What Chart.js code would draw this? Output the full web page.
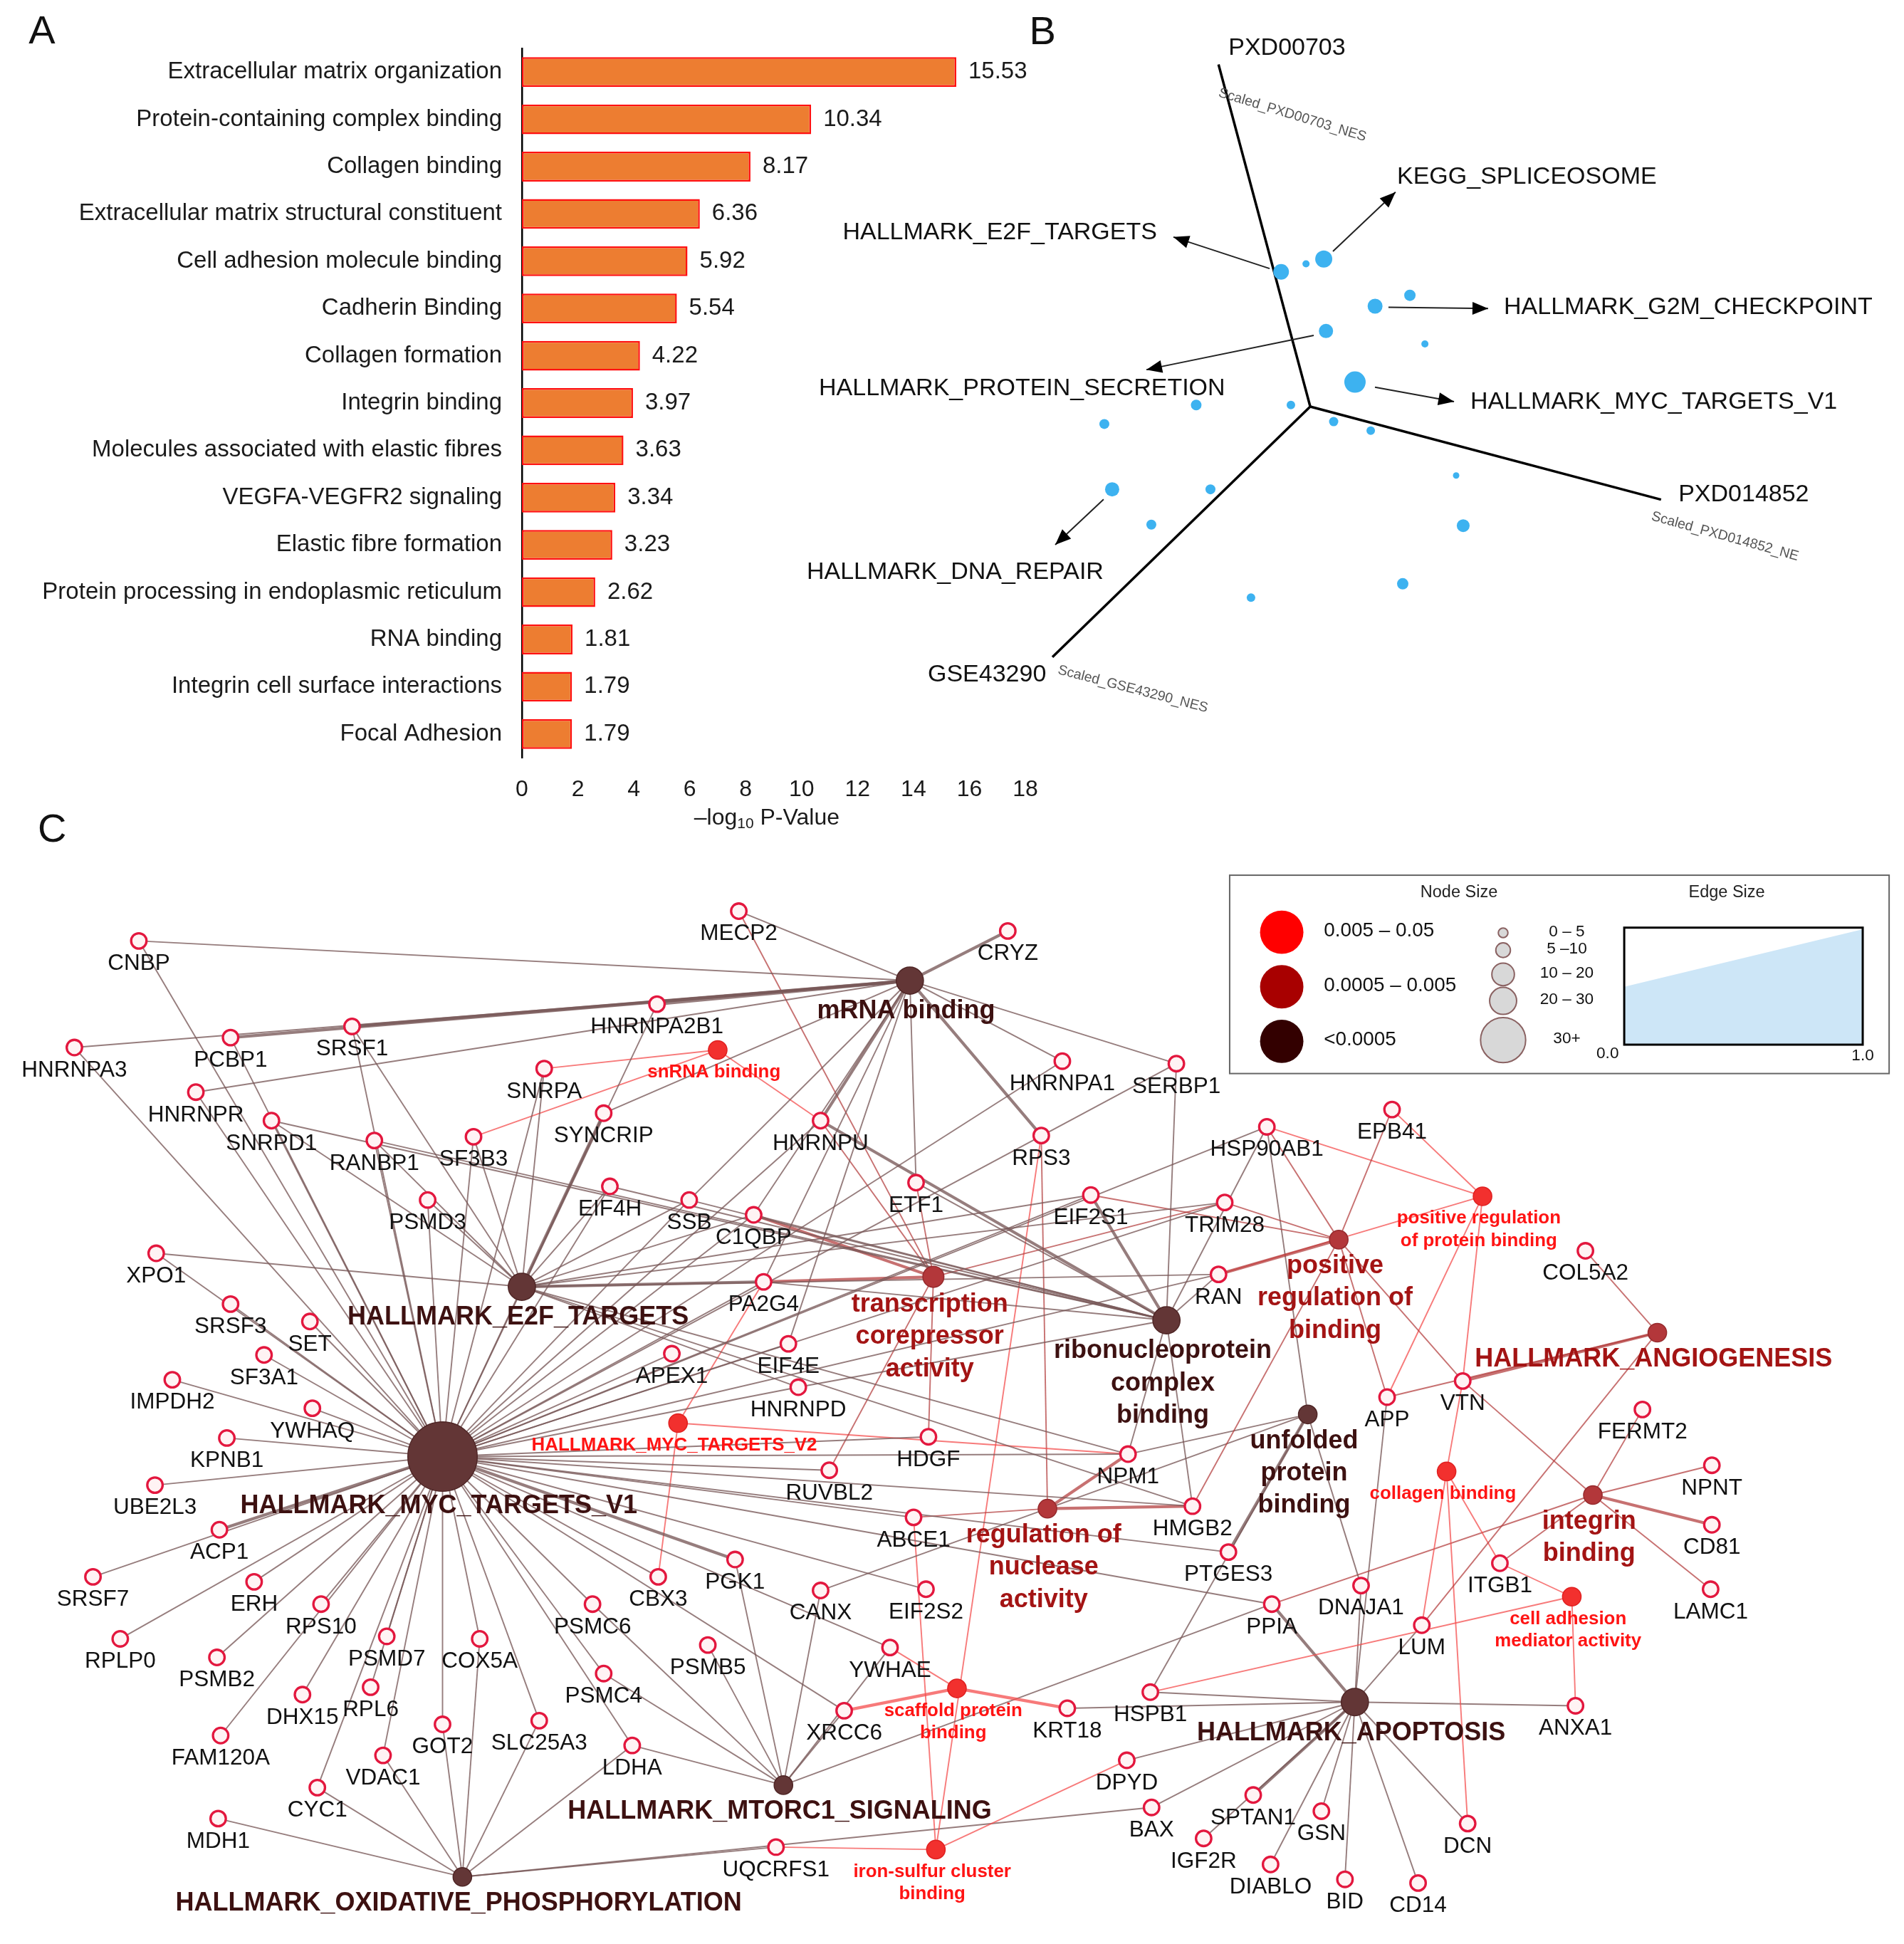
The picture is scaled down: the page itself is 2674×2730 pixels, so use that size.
<!DOCTYPE html>
<html><head><meta charset="utf-8">
<script src="https://cdn.jsdelivr.net/npm/chart.js@4/dist/chart.umd.min.js"></script>
<style>
html,body{margin:0;padding:0;background:#fff;}
#page{position:relative;width:2674px;height:2730px;overflow:hidden;background:#fff;}
canvas{position:absolute;}
</style></head><body><div id="page">
<canvas id="cA" width="1500" height="1200" style="left:0;top:0;width:1500px;height:1200px"></canvas>
<canvas id="cB" width="1574" height="1114" style="left:1100px;top:0;width:1574px;height:1114px"></canvas>
<canvas id="cC" width="2674" height="1616" style="left:0;top:1114px;width:2674px;height:1616px"></canvas>
</div>
<script>
// ---------------- Panel A data ----------------
const termLabels = ['Extracellular matrix organization','Protein-containing complex binding','Collagen binding','Extracellular matrix structural constituent','Cell adhesion molecule binding','Cadherin Binding','Collagen formation','Integrin binding','Molecules associated with elastic fibres','VEGFA-VEGFR2 signaling','Elastic fibre formation','Protein processing in endoplasmic reticulum','RNA binding','Integrin cell surface interactions','Focal Adhesion'];
const termValues = [15.53,10.34,8.17,6.36,5.92,5.54,4.22,3.97,3.63,3.34,3.23,2.62,1.81,1.79,1.79];
const xTickValues = [0,2,4,6,8,10,12,14,16,18];

// ---------------- Panel B data (triplot coordinates) ----------------
const bAxisNames = ['PXD00703','PXD014852','GSE43290'];
const bAxisSubNames = ['Scaled_PXD00703_NES','Scaled_PXD014852_NE','Scaled_GSE43290_NES'];
const bAxisOrigin = [1057,328];
const bAxisEnds = [[983,52],[1340,403],[849,530]];
const bPoints = [[1033.5,219.3,11],[1053.6,212.8,5],[1067.9,208.9,12],[1137.4,238.2,8],[1109.3,247.0,10.5],[1069.7,267.0,10],[1149.5,277.4,5],[1093.1,308.2,15],[1041.4,326.7,6],[965.0,326.7,7.5],[890.9,342.0,7],[1075.9,340.1,6.5],[1105.8,347.4,6],[897.2,394.7,10],[976.5,394.7,7],[928.8,423.2,7],[1174.7,383.6,4.5],[1180.4,424.0,9],[1131.6,470.9,8],[1009.2,482.1,6]];
const bPathways = ['KEGG_SPLICEOSOME','HALLMARK_E2F_TARGETS','HALLMARK_G2M_CHECKPOINT','HALLMARK_PROTEIN_SECRETION','HALLMARK_MYC_TARGETS_V1','HALLMARK_DNA_REPAIR'];
const bArrowFrom = [[1075.3,202.8],[1024.2,216.6],[1120.1,247.8],[1059.8,270.5],[1109.2,312.4],[890.3,402.8]];
const bArrowTo = [[1125.8,155.0],[946.6,191.2],[1200.5,248.9],[924.8,298.2],[1173.0,324.0],[851.3,439.4]];

// ---------------- Panel C data (network layout) ----------------
const genes = [
['CNBP',112,759],['MECP2',596,735],['CRYZ',813,751],['HNRNPA3',60,845],['PCBP1',186,837],['SRSF1',284,828],
['HNRNPA2B1',530,810],['SNRPA',439,862],['HNRNPR',158,881],['SNRPD1',219,904],['SYNCRIP',487,898],['RANBP1',302,920],
['SF3B3',382,917],['HNRNPU',662,904],['HNRNPA1',857,856],['SERBP1',949,858],['RPS3',840,916],['ETF1',739,954],
['EIF4H',492,957],['SSB',556,968],['PSMD3',345,968],['C1QBP',608,980],['EIF2S1',880,964],['TRIM28',988,970],
['HSP90AB1',1022,909],['EPB41',1123,895],['RAN',983,1028],['COL5A2',1279,1009],['XPO1',126,1011],['SRSF3',186,1052],
['SET',250,1066],['PA2G4',616,1034],['SF3A1',213,1093],['APEX1',542,1092],['EIF4E',636,1084],['HNRNPD',644,1119],
['IMPDH2',139,1113],['YWHAQ',252,1136],['KPNB1',183,1160],['HDGF',749,1159],['RUVBL2',669,1186],['NPM1',910,1173],
['UBE2L3',125,1198],['APP',1119,1127],['VTN',1180,1114],['FERMT2',1325,1137],['NPNT',1381,1182],['CD81',1381,1230],
['LAMC1',1380,1282],['ACP1',177,1234],['ABCE1',737,1224],['HMGB2',962,1215],['PTGES3',991,1252],['ITGB1',1210,1261],
['SRSF7',75,1272],['ERH',205,1276],['RPS10',259,1294],['PGK1',593,1258],['CBX3',531,1272],['CANX',662,1283],
['EIF2S2',747,1282],['PPIA',1026,1294],['DNAJA1',1098,1279],['LUM',1147,1311],['RPLP0',97,1322],['PSMD7',312,1320],
['COX5A',387,1322],['PSMC6',478,1294],['PSMB2',175,1337],['PSMB5',571,1327],['YWHAE',718,1329],['DHX15',244,1367],
['RPL6',299,1361],['PSMC4',487,1350],['XRCC6',681,1380],['KRT18',861,1378],['HSPB1',928,1365],['ANXA1',1271,1376],
['FAM120A',178,1400],['GOT2',357,1391],['SLC25A3',435,1388],['VDAC1',309,1416],['LDHA',510,1408],['DPYD',909,1420],
['CYC1',256,1442],['BAX',929,1458],['SPTAN1',1011,1448],['GSN',1066,1461],['IGF2R',971,1483],['DCN',1184,1471],
['MDH1',176,1467],['UQCRFS1',626,1490],['DIABLO',1025,1504],['BID',1085,1516],['CD14',1144,1519]
];
// [id, label, x, y, p-value class, gene count]
const hubs = [
['mRNA','mRNA binding',734,791,'dark',22],
['E2F','HALLMARK_E2F_TARGETS',421,1038,'dark',21],
['MYC1','HALLMARK_MYC_TARGETS_V1',357,1175,'dark',62],
['RNP','ribonucleoprotein\ncomplex\nbinding',941,1065,'dark',20],
['TC','transcription\ncorepressor\nactivity',753,1030,'mid',10],
['PRB','positive\nregulation of\nbinding',1080,1000,'mid',8],
['PRPB','positive regulation\nof protein binding',1196,965,'light',5],
['ANG','HALLMARK_ANGIOGENESIS',1337,1075,'mid',4],
['UPB','unfolded\nprotein\nbinding',1055,1141,'dark',7],
['MYC2','HALLMARK_MYC_TARGETS_V2',547,1148,'light',3],
['NUC','regulation of\nnuclease\nactivity',845,1217,'mid',4],
['COL','collagen binding',1167,1187,'light',4],
['INT','integrin\nbinding',1285,1206,'mid',7],
['CAM','cell adhesion\nmediator activity',1268,1288,'light',3],
['APO','HALLMARK_APOPTOSIS',1093,1373,'dark',20],
['SCF','scaffold protein\nbinding',772,1362,'light',3],
['MTOR','HALLMARK_MTORC1_SIGNALING',632,1440,'dark',9],
['FES','iron-sulfur cluster\nbinding',755,1492,'light',4],
['OXP','HALLMARK_OXIDATIVE_PHOSPHORYLATION',373,1514,'dark',9],
['SNR','snRNA binding',579,847,'light',3]
];
const edgeLists = [
['mRNA',['CNBP','HNRNPA3','PCBP1','SRSF1','HNRNPA2B1','HNRNPR','MECP2','CRYZ','HNRNPA1','SERBP1','RPS3','HNRNPU','ETF1','SYNCRIP','C1QBP','SSB','EIF4E','PA2G4']],
['E2F',['XPO1','SRSF1','SNRPD1','RANBP1','PSMD3','SYNCRIP','SNRPA','SF3B3','SSB','EIF4H','PA2G4','RAN','NPM1','HNRNPD','TRIM28','EIF2S1','C1QBP','HMGB2']],
['MYC1',['CNBP','HNRNPA3','PCBP1','HNRNPR','SNRPD1','SRSF1','RANBP1','PSMD3','SF3B3','SNRPA','XPO1','SRSF3','SET','SF3A1','IMPDH2','YWHAQ','KPNB1','UBE2L3','ACP1','SRSF7','ERH','RPLP0','RPS10','PSMB2','DHX15','RPL6','PSMD7','FAM120A','CYC1','GOT2','COX5A','SLC25A3','PSMC6','PSMC4','LDHA','CBX3','PGK1','EIF4H','SSB','C1QBP','PA2G4','APEX1','EIF4E','HNRNPD','HNRNPA1','SERBP1','HNRNPU','RUVBL2','NPM1','ABCE1','HSP90AB1','TRIM28','RAN','EIF2S1','HMGB2','PTGES3','PPIA','EIF2S2','YWHAE','XRCC6','HDGF','SYNCRIP','HNRNPA2B1','VDAC1']],
['RNP',['SNRPD1','RANBP1','HNRNPU','C1QBP','SSB','ETF1','EIF2S1','SERBP1','NPM1','HNRNPD','PA2G4','EIF4H','HSP90AB1','RAN','HMGB2']],
['TC',['MECP2','HNRNPU','C1QBP','PA2G4','HDGF','RUVBL2','TRIM28','ETF1']],
['PRB',['HSP90AB1','EPB41','TRIM28','RAN','APP','VTN','HMGB2','EIF2S1']],
['PRPB',['HSP90AB1','EPB41','RAN','APP','VTN']],
['ANG',['COL5A2','VTN','APP','LUM']],
['UPB',['HSP90AB1','NPM1','PTGES3','DNAJA1','HSPB1','CANX']],
['MYC2',['PA2G4','CBX3','NPM1']],
['NUC',['NPM1','ABCE1','HMGB2','RPS3']],
['COL',['VTN','LUM','ITGB1','DCN']],
['INT',['VTN','FERMT2','NPNT','CD81','LAMC1','ITGB1','PPIA']],
['CAM',['ITGB1','ANXA1','HSPB1']],
['APO',['PPIA','DNAJA1','LUM','ANXA1','DCN','CD14','BID','GSN','DIABLO','SPTAN1','IGF2R','BAX','HSPB1','KRT18','APP','DPYD']],
['SCF',['YWHAE','XRCC6','KRT18']],
['MTOR',['PSMC6','PSMC4','PSMB5','PGK1','CANX','XRCC6','LDHA','PPIA','YWHAE']],
['FES',['UQCRFS1','DPYD','ABCE1','RPS3']],
['OXP',['MDH1','CYC1','VDAC1','GOT2','COX5A','SLC25A3','LDHA','UQCRFS1','BAX']],
['SNR',['SNRPA','SF3B3','HNRNPU']]
];
const strongEdges = [['mRNA','PCBP1'],['mRNA','SRSF1'],['mRNA','HNRNPA2B1'],['mRNA','HNRNPU'],['mRNA','RPS3'],['mRNA','CRYZ'],['E2F','SYNCRIP'],['E2F','PA2G4'],['TC','PA2G4'],['TC','C1QBP'],['RNP','HNRNPU'],['RNP','EIF2S1'],['UPB','PTGES3'],['APO','PPIA'],['APO','SPTAN1'],['PRB','RAN'],['SCF','XRCC6'],['SCF','KRT18'],['INT','CD81'],['NUC','NPM1'],['NUC','HMGB2'],['ANG','VTN'],['MYC1','ACP1'],['MYC1','PGK1']];
const legendPColors = [['0.005 – 0.05','#FF0000'],['0.0005 – 0.005','#A80000'],['<0.0005','#330000']];
const legendSizes = ['0 – 5','5 –10','10 – 20','20 – 30','30+'];

// ---------------- helpers ----------------
const S = 2674/1536;
const FONT = '"Liberation Sans", Arial, Helvetica, sans-serif';
Chart.defaults.font.family = FONT;
const f = (sz, w) => (w ? w + ' ' : '') + (sz * S).toFixed(1) + 'px ' + FONT;

// ---------------- Chart A ----------------
const valueLabelsPlugin = {
  id: 'valueLabels',
  afterDatasetsDraw(chart) {
    const ctx = chart.ctx; const meta = chart.getDatasetMeta(0);
    ctx.save(); ctx.font = '33px ' + FONT; ctx.fillStyle = '#1a1a1a';
    ctx.textAlign = 'left'; ctx.textBaseline = 'middle';
    meta.data.forEach((bar, i) => ctx.fillText(termValues[i].toFixed(2), bar.x + 17, bar.y));
    ctx.restore();
  }
};
const axisTitlePlugin = {
  id: 'axisTitleA',
  afterDraw(chart) {
    const ctx = chart.ctx; ctx.save();
    const big = '32px ' + FONT, small = '21px ' + FONT;
    const parts = [['–log', big, 0], ['10', small, 8], [' P-Value', big, 0]];
    let w = 0; parts.forEach(p => { ctx.font = p[1]; w += ctx.measureText(p[0]).width; });
    const xa = chart.scales.x; let x = (xa.getPixelForValue(0) + xa.getPixelForValue(17)) / 2 - w / 2 + 10;
    const y = 1149; ctx.fillStyle = '#1a1a1a'; ctx.textBaseline = 'middle'; ctx.textAlign = 'left';
    parts.forEach(p => { ctx.font = p[1]; ctx.fillText(p[0], x, y + p[2]); x += ctx.measureText(p[0]).width; });
    ctx.font = '56px ' + FONT; ctx.fillStyle = '#111'; ctx.textAlign = 'center';
    ctx.fillText('A', 59, 46);
    ctx.restore();
  }
};
new Chart(document.getElementById('cA'), {
  type: 'bar',
  data: { labels: termLabels, datasets: [{ data: termValues, backgroundColor: '#ED7D31', borderColor: '#FF1010', borderWidth: 2.5, borderSkipped: false, categoryPercentage: 1, barPercentage: 0.63 }] },
  options: {
    indexAxis: 'y', responsive: false, animation: false, devicePixelRatio: 1, events: [],
    layout: { padding: { top: 68, right: 60, left: 0, bottom: 0 } },
    plugins: { legend: { display: false }, tooltip: { enabled: false } },
    scales: {
      x: { min: 0, max: 18, afterBuildTicks: s => { s.ticks = xTickValues.map(v => ({ value: v })); },
           ticks: { font: { size: 32 }, color: '#1a1a1a', padding: 26 }, grid: { display: false, drawTicks: false }, border: { display: false },
           afterFit: s => { s.height = 136; } },
      y: { grid: { display: false, drawTicks: false }, border: { display: true, color: '#000', width: 2.5 },
           ticks: { font: { size: 33 }, color: '#1a1a1a', padding: 28 }, afterFit: s => { s.width = 733; } }
    }
  },
  plugins: [valueLabelsPlugin, axisTitlePlugin]
});

// ---------------- map-style charts (B, C) ----------------
function mapOptions(left, top, w, h) {
  return { responsive: false, animation: false, devicePixelRatio: 1, events: [],
    layout: { padding: 0, autoPadding: false },
    plugins: { legend: { display: false }, tooltip: { enabled: false } },
    scales: { x: { type: 'linear', display: false, min: left / S, max: (left + w) / S },
              y: { type: 'linear', display: false, reverse: true, min: top / S, max: (top + h) / S } } };
}
function px(chart, x, y) { return [chart.scales.x.getPixelForValue(x), chart.scales.y.getPixelForValue(y)]; }

// ---------------- Chart B ----------------
const bDatasets = [];
bAxisEnds.forEach(e => bDatasets.push({ data: [{ x: bAxisOrigin[0], y: bAxisOrigin[1] }, { x: e[0], y: e[1] }], showLine: true, pointRadius: 0, borderColor: '#000', borderWidth: 3.5, order: 5, clip: false }));
bArrowFrom.forEach((a, i) => bDatasets.push({ data: [{ x: a[0], y: a[1] }, { x: bArrowTo[i][0], y: bArrowTo[i][1] }], showLine: true, pointRadius: 0, borderColor: '#222', borderWidth: 2, order: 4, clip: false }));
bDatasets.push({ data: bPoints.map(p => ({ x: p[0], y: p[1] })), pointRadius: bPoints.map(p => p[2]), backgroundColor: '#3DB2F0', borderWidth: 0, order: 1, clip: false });
const bLabelAnchors = [[991,39,'left'],[1354,399,'left'],[844,544.5,'right']];
const bSubAnchors = [[985,69.4,17],[1334,411,15.5],[855,535,14.5]];
const bPathAnchors = [[1127,143,'left'],[933.4,187.8,'right'],[1213.2,248,'left'],[660.6,313.6,'left'],[1186.2,324.3,'left'],[650.8,461.7,'left']];
const bPlugin = {
  id: 'bDecor',
  afterDatasetsDraw(chart) {
    const ctx = chart.ctx; ctx.save();
    bArrowTo.forEach((t, i) => {
      const [x0, y0] = px(chart, bArrowFrom[i][0], bArrowFrom[i][1]); const [x1, y1] = px(chart, t[0], t[1]);
      const a = Math.atan2(y1 - y0, x1 - x0), L = 22, W = 9;
      ctx.beginPath(); ctx.moveTo(x1, y1);
      ctx.lineTo(x1 - L * Math.cos(a) + W * Math.sin(a), y1 - L * Math.sin(a) - W * Math.cos(a));
      ctx.lineTo(x1 - L * Math.cos(a) - W * Math.sin(a), y1 - L * Math.sin(a) + W * Math.cos(a));
      ctx.closePath(); ctx.fillStyle = '#000'; ctx.fill();
    });
    ctx.fillStyle = '#111'; ctx.textBaseline = 'middle'; ctx.font = '34px ' + FONT;
    bAxisNames.forEach((n, i) => { const a = bLabelAnchors[i]; const [x, y] = px(chart, a[0], a[1]); ctx.textAlign = a[2]; ctx.fillText(n, x, y); });
    bPathways.forEach((n, i) => { const a = bPathAnchors[i]; const [x, y] = px(chart, a[0], a[1]); ctx.textAlign = a[2]; ctx.fillText(n, x, y); });
    ctx.font = '19.5px ' + FONT; ctx.fillStyle = '#555'; ctx.textAlign = 'left'; ctx.textBaseline = 'top';
    bAxisSubNames.forEach((n, i) => { const a = bSubAnchors[i]; const [x, y] = px(chart, a[0], a[1]); ctx.save(); ctx.translate(x, y); ctx.rotate(a[2] * Math.PI / 180); ctx.fillText(n, 0, 0); ctx.restore(); });
    const [bx, by] = px(chart, 841, 26.5); ctx.font = '56px ' + FONT; ctx.fillStyle = '#111'; ctx.textAlign = 'center'; ctx.textBaseline = 'middle'; ctx.fillText('B', bx, by);
    ctx.restore();
  }
};
new Chart(document.getElementById('cB'), { type: 'scatter', data: { datasets: bDatasets }, options: mapOptions(1100, 0, 1574, 1114), plugins: [bPlugin] });

// ---------------- Chart C ----------------
const geneById = {}; genes.forEach(g => geneById[g[0]] = g);
const hubById = {}; hubs.forEach(h => hubById[h[0]] = h);
const hubRadius = n => n >= 30 ? 28 : n >= 20 ? 11 : n >= 10 ? 8.5 : 7.5;
const NODE_COL = { dark: '#633636', mid: '#B3373A', light: '#F2302E' };
const NODE_BORDER = { dark: '#4f2626', mid: '#962a2d', light: '#e02020' };
const EDGE_COL = { dark: 'rgba(120,88,88,0.78)', mid: 'rgba(178,58,58,0.72)', light: 'rgba(244,78,78,0.75)' };
const LABEL_COL = { dark: '#3d1111', mid: '#a31414', light: '#ff1414' };
const strongSet = new Set(strongEdges.map(e => e[0] + '|' + e[1]));
const cDatasets = edgeLists.map(([hid, list]) => {
  const h = hubById[hid]; const data = []; const widths = [];
  list.forEach(gn => { const g = geneById[gn]; data.push({ x: h[2], y: h[3] }, { x: g[1], y: g[2] }, { x: g[1], y: null }); widths.push(strongSet.has(hid + '|' + gn) ? 4.2 : 1.9); });
  return { data, showLine: true, spanGaps: false, pointRadius: 0, borderColor: EDGE_COL[h[4]], borderWidth: 1.9,
           segment: { borderWidth: c => widths[Math.floor(c.p0DataIndex / 3)] }, order: 10, clip: false };
});
cDatasets.push({ data: genes.map(g => ({ x: g[1], y: g[2] })), pointRadius: 6.2 * S, borderWidth: 1.9 * S, borderColor: '#E3173E', backgroundColor: '#FFF3F4', order: 2, clip: false });
cDatasets.push({ data: hubs.map(h => ({ x: h[2], y: h[3] })), pointRadius: hubs.map(h => hubRadius(h[5]) * S), backgroundColor: hubs.map(h => NODE_COL[h[4]]), borderColor: hubs.map(h => NODE_BORDER[h[4]]), borderWidth: 1.5, order: 1, clip: false });

const cPlugin = {
  id: 'cDecor',
  afterDatasetsDraw(chart) {
    const ctx = chart.ctx; ctx.save();
    ctx.textAlign = 'center'; ctx.textBaseline = 'middle';
    ctx.font = f(18.1); ctx.fillStyle = '#111';
    genes.forEach(g => { const [x, y] = px(chart, g[1], g[2] + 18.5); ctx.fillText(g[0], x, y); });
    hubs.forEach(h => {
      const cls = h[4], r = hubRadius(h[5]); const light = cls === 'light';
      const lines = h[1].split('\n'); const lh = light ? 18 : 26;
      const dy = r + (light ? 10.5 : (r > 20 ? 12 : 14));
      ctx.font = light ? f(14.9, 'bold') : f(20.7, 'bold'); ctx.fillStyle = LABEL_COL[cls];
      lines.forEach((t, i) => { const [x, y] = px(chart, h[2] - 3, h[3] + dy + i * lh); ctx.fillText(t, x, y); });
    });
    const P = (x, y) => px(chart, x, y);
    let [x0, y0] = P(992, 706), [x1, y1] = P(1524, 866);
    ctx.strokeStyle = '#666'; ctx.lineWidth = 2; ctx.strokeRect(x0, y0, x1 - x0, y1 - y0);
    ctx.fillStyle = '#222'; ctx.font = f(13.5);
    let p = P(1177, 720); ctx.fillText('Node Size', p[0], p[1]);
    p = P(1393, 720); ctx.fillText('Edge Size', p[0], p[1]);
    const cy = [752, 796, 840];
    legendPColors.forEach((lc, i) => {
      const q = P(1034, cy[i]); ctx.beginPath(); ctx.arc(q[0], q[1], 17.5 * S, 0, Math.PI * 2); ctx.fillStyle = lc[1]; ctx.fill();
      const t = P(1068, cy[i] - 1); ctx.font = f(16); ctx.fillStyle = '#111'; ctx.textAlign = 'left'; ctx.fillText(lc[0], t[0], t[1]); ctx.textAlign = 'center';
    });
    const sy = [752.5, 766.5, 786, 807.4, 839], sr = [3.9, 5.9, 9.1, 10.9, 18.2];
    legendSizes.forEach((s, i) => {
      const q = P(1212.6, sy[i]); ctx.beginPath(); ctx.arc(q[0], q[1], sr[i] * S, 0, Math.PI * 2); ctx.fillStyle = '#D8D8D8'; ctx.fill(); ctx.strokeStyle = '#8a6262'; ctx.lineWidth = 2; ctx.stroke();
      const t = P(1264, sy[i] - 1); ctx.font = f(13); ctx.fillStyle = '#111'; ctx.fillText(s, t[0], t[1]);
    });
    [x0, y0] = P(1310.3, 748.3); [x1, y1] = P(1502.7, 842.7);
    const pl = P(1310.3, 796), pr = P(1502.7, 749.6);
    ctx.beginPath(); ctx.moveTo(pl[0], pl[1]); ctx.lineTo(pr[0], pr[1]); ctx.lineTo(x1, y1); ctx.lineTo(x0, y1); ctx.closePath(); ctx.fillStyle = '#CDE6F7'; ctx.fill();
    ctx.strokeStyle = '#000'; ctx.lineWidth = 3; ctx.strokeRect(x0, y0, x1 - x0, y1 - y0);
    ctx.font = f(13); ctx.fillStyle = '#111';
    p = P(1296.9, 850); ctx.fillText('0.0', p[0], p[1]);
    p = P(1502.7, 852); ctx.fillText('1.0', p[0], p[1]);
    p = P(42, 670); ctx.font = '56px ' + FONT; ctx.fillStyle = '#111'; ctx.fillText('C', p[0], p[1]);
    ctx.restore();
  }
};
new Chart(document.getElementById('cC'), { type: 'scatter', data: { datasets: cDatasets }, options: mapOptions(0, 1114, 2674, 1616), plugins: [cPlugin] });
</script>
</body></html>
